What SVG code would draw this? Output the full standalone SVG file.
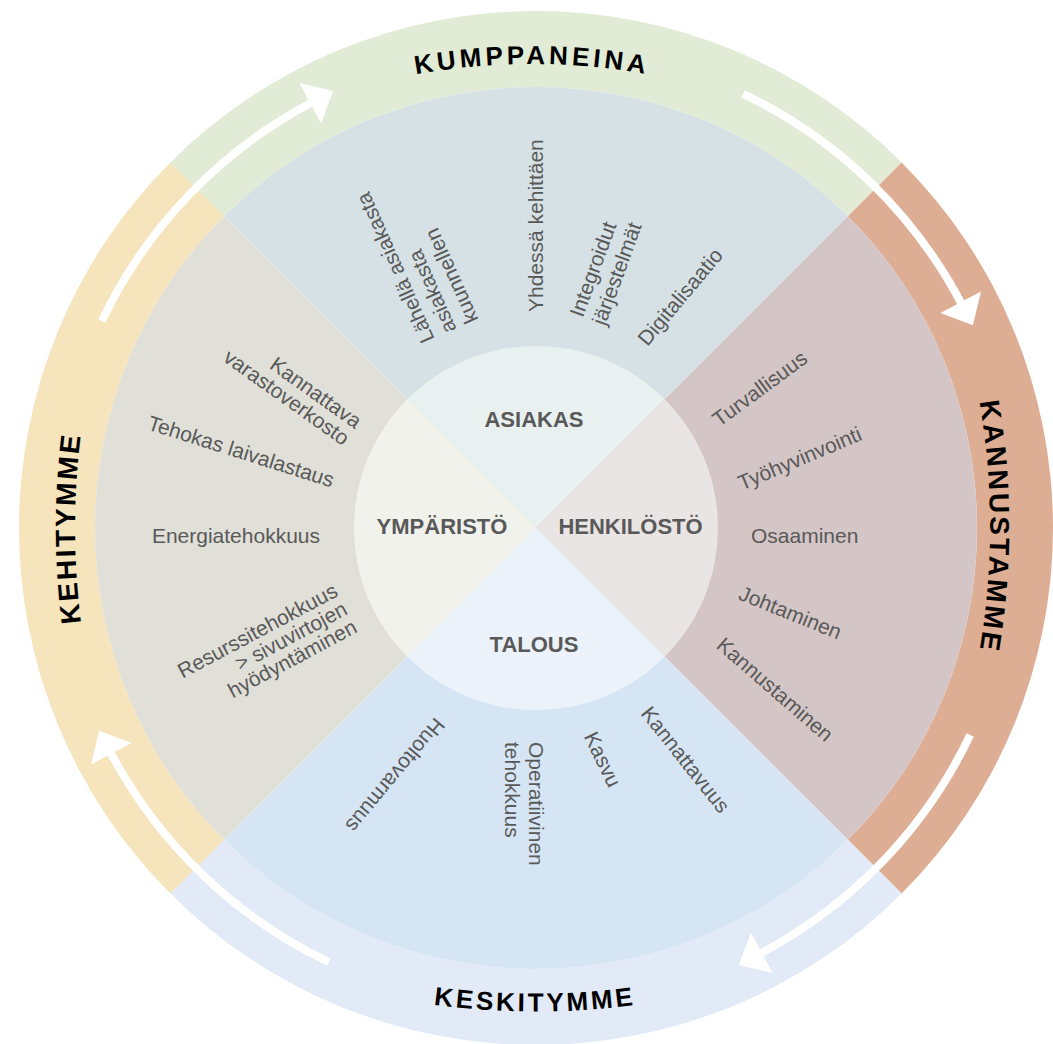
<svg xmlns="http://www.w3.org/2000/svg" width="1053" height="1044" viewBox="0 0 1053 1044">
<defs>
<style>
.rl{font-family:"Liberation Sans",Arial,sans-serif;font-weight:bold;fill:#000;}
.it{font-family:"Liberation Sans",Arial,sans-serif;font-size:21px;fill:#595959;}
.end{text-anchor:end;}
.core{font-family:"Liberation Sans",Arial,sans-serif;font-weight:bold;font-size:22px;fill:#595959;text-anchor:middle;}
.arr{fill:none;stroke:#fff;stroke-width:8;}
.ah{fill:#fff;}
.ringTop{fill:#E2EBD6;} .ringRight{fill:#DDAE93;} .ringBottom{fill:#E1EAF6;} .ringLeft{fill:#F5E4BC;}
.secTop{fill:#D5E1E5;} .secRight{fill:#D4C6C6;} .secBottom{fill:#D6E5F4;} .secLeft{fill:#E0DFD8;}
.coreTop{fill:#E9F1F0;} .coreRight{fill:#E9E5E4;} .coreBottom{fill:#EBF2FA;} .coreLeft{fill:#F2F2ED;}
</style>
<path id="ringSeg" d="M 170.43 162.43 A 517 517 0 0 1 901.57 162.43 L 847.83 216.17 A 441 441 0 0 0 224.17 216.17 Z"/>
<path id="sectSeg" d="M 536 528 L 224.17 216.17 A 441 441 0 0 1 847.83 216.17 Z"/>
<path id="coreSeg" d="M 536 528 L 407.31 399.31 A 182 182 0 0 1 664.69 399.31 Z"/>
<g id="arrowShape">
<path class="arr" d="M 970.15 735.08 A 481 481 0 0 1 755.84 955.81"/>
<polygon class="ah" points="772.61,973.01 738.85,964.91 751.01,932.39"/>
</g>
<path id="pTop" d="M 282 114 A 650 650 0 0 1 782 114"/>
<path id="pRight" d="M 947.1 276.7 A 750 750 0 0 1 947.1 776.7"/>
<path id="pBottom" d="M 285 968.6 A 750 750 0 0 0 785 968.6"/>
<path id="pLeft" d="M 117.9 778.5 A 750 750 0 0 1 117.9 278.5"/>
</defs>

<g id="asiakas">
<use href="#ringSeg" class="ringTop"/>
<use href="#sectSeg" class="secTop"/>
<use href="#coreSeg" class="coreTop"/>
<text class="core" x="534" y="427">ASIAKAS</text>
<text class="it" transform="translate(434.8,339) rotate(-114)"><tspan x="0" y="0">Lähellä asiakasta</tspan><tspan x="0" dy="24">asiakasta</tspan><tspan x="0" dy="24">kuunnellen</tspan></text>
<text class="it" transform="translate(543,312) rotate(-90)">Yhdessä kehittäen</text>
<text class="it" transform="translate(582.7,318.2) rotate(-70)"><tspan x="0" y="0">Integroidut</tspan><tspan x="0" dy="24">järjestelmät</tspan></text>
<text class="it" transform="translate(647.6,347) rotate(-50)">Digitalisaatio</text>
</g>

<g id="henkilosto">
<use href="#ringSeg" class="ringRight" transform="rotate(90 536 528)"/>
<use href="#sectSeg" class="secRight" transform="rotate(90 536 528)"/>
<use href="#coreSeg" class="coreRight" transform="rotate(90 536 528)"/>
<text class="core" x="630.5" y="534">HENKILÖSTÖ</text>
<text class="it" transform="translate(719.3,427.4) rotate(-36.4)">Turvallisuus</text>
<text class="it" transform="translate(741.7,490.6) rotate(-22.8)">Työhyvinvointi</text>
<text class="it" transform="translate(751,542.5)">Osaaminen</text>
<text class="it" transform="translate(737.2,599) rotate(22)">Johtaminen</text>
<text class="it" transform="translate(715.2,647) rotate(41)">Kannustaminen</text>
</g>

<g id="talous">
<use href="#ringSeg" class="ringBottom" transform="rotate(180 536 528)"/>
<use href="#sectSeg" class="secBottom" transform="rotate(180 536 528)"/>
<use href="#coreSeg" class="coreBottom" transform="rotate(180 536 528)"/>
<text class="core" x="534" y="652">TALOUS</text>
<text class="it" transform="translate(434.9,716.4) rotate(129.8)">Huoltovarmuus</text>
<text class="it" transform="translate(529,742) rotate(90)"><tspan x="0" y="0">Operatiivinen</tspan><tspan x="0" dy="24">tehokkuus</tspan></text>
<text class="it" transform="translate(583.5,736.3) rotate(64.2)">Kasvu</text>
<text class="it" transform="translate(640,713.8) rotate(51.6)">Kannattavuus</text>
</g>

<g id="ymparisto">
<use href="#ringSeg" class="ringLeft" transform="rotate(270 536 528)"/>
<use href="#sectSeg" class="secLeft" transform="rotate(270 536 528)"/>
<use href="#coreSeg" class="coreLeft" transform="rotate(270 536 528)"/>
<text class="core" x="442" y="534">YMPÄRISTÖ</text>
<text class="it end" transform="translate(354.9,429.2) rotate(35.5)"><tspan x="0" y="0">Kannattava</tspan><tspan x="0" dy="21">varastoverkosto</tspan></text>
<text class="it end" transform="translate(331.2,487.4) rotate(17.5)">Tehokas laivalastaus</text>
<text class="it end" transform="translate(320,542.5)">Energiatehokkuus</text>
<text class="it end" transform="translate(339.2,595.4) rotate(-28)"><tspan x="0" y="0">Resurssitehokkuus</tspan><tspan x="0" dy="20.5">&gt; sivuvirtojen</tspan><tspan x="0" dy="20.5">hyödyntäminen</tspan></text>
</g>

<g id="ring-labels">
<text class="rl" style="font-size:26px;letter-spacing:3.8px"><textPath href="#pTop" startOffset="50%" text-anchor="middle">KUMPPANEINA</textPath></text>
<text class="rl" style="font-size:28px;letter-spacing:2.8px"><textPath href="#pRight" startOffset="50%" text-anchor="middle">KANNUSTAMME</textPath></text>
<text class="rl" style="font-size:26px;letter-spacing:3px"><textPath href="#pBottom" startOffset="50%" text-anchor="middle">KESKITYMME</textPath></text>
<text class="rl" style="font-size:28px;letter-spacing:2.4px"><textPath href="#pLeft" startOffset="50%" text-anchor="middle">KEHITYMME</textPath></text>
</g>

<g id="connectors">
<use href="#arrowShape"/>
<use href="#arrowShape" transform="rotate(90 536 528)"/>
<use href="#arrowShape" transform="rotate(180 536 528)"/>
<use href="#arrowShape" transform="rotate(270 536 528)"/>
</g>
</svg>
